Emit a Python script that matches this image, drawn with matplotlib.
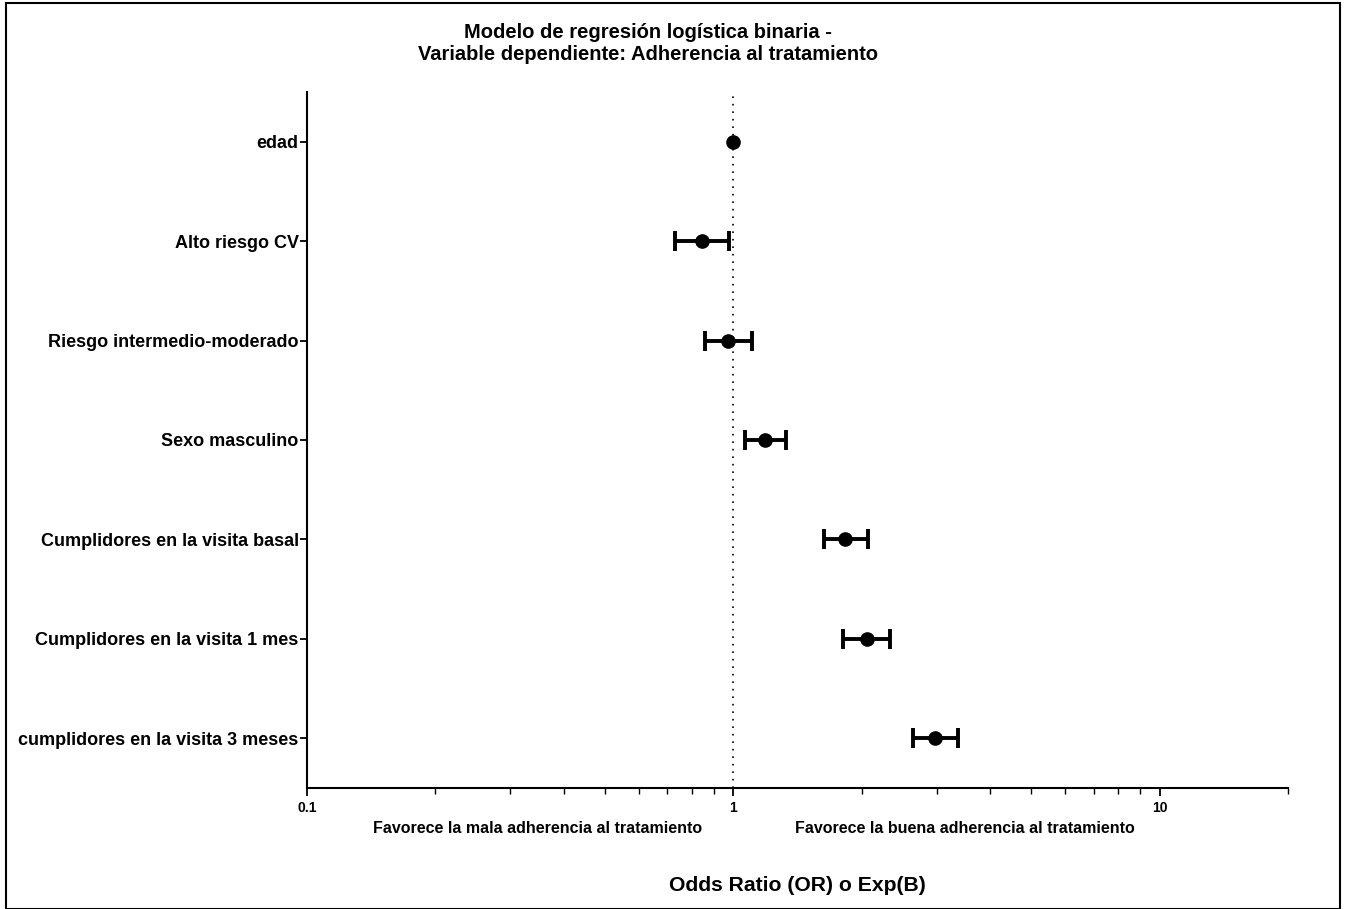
import matplotlib
matplotlib.use("Agg")
import matplotlib.pyplot as plt
from matplotlib.ticker import LogLocator, NullFormatter, FixedLocator, FixedFormatter
from matplotlib.patches import Rectangle

plt.rcParams['font.family'] = ['Liberation Sans', 'DejaVu Sans']

categories = ["edad", "Alto riesgo CV", "Riesgo intermedio-moderado", "Sexo masculino",
              "Cumplidores en la visita basal", "Cumplidores en la visita 1 mes",
              "cumplidores en la visita 3 meses"]
odds_ratio = [1.00, 0.846, 0.973, 1.187, 1.83, 2.055, 2.97]
ci_low = [0.995, 0.731, 0.856, 1.065, 1.63, 1.806, 2.635]
ci_high = [1.005, 0.979, 1.104, 1.329, 2.066, 2.336, 3.37]
x_ticks = [0.1, 1, 10]
x_tick_labels = ["0.1", "1", "10"]

fig = plt.figure(figsize=(13.48, 9.09), dpi=100)
ax = fig.add_axes([307/1348, 1-788/909, (1288-307)/1348, (788-92)/909])

ypos = list(range(len(categories)))
ax.axvline(1, color='black', linestyle=(0, (1, 3.5)), linewidth=1.2, zorder=1)

# error bars only where the interval is wider than the marker
idx = [i for i in ypos if ci_high[i] / ci_low[i] > 1.03]
ax.errorbar([odds_ratio[i] for i in idx], idx,
            xerr=[[odds_ratio[i] - ci_low[i] for i in idx],
                  [ci_high[i] - odds_ratio[i] for i in idx]],
            fmt='none', ecolor='black', elinewidth=2.8, capsize=7, capthick=2.8, zorder=3)
ax.plot(odds_ratio, ypos, 'o', color='black', markersize=9.5, zorder=4)

ax.set_xscale('log')
ax.set_xlim(0.1, 20)
ax.set_ylim(len(categories) - 0.5, -0.5)
ax.set_yticks(ypos)
ax.set_yticklabels(categories, fontsize=13, fontweight='bold')
ax.xaxis.set_major_locator(FixedLocator(x_ticks))
ax.xaxis.set_major_formatter(FixedFormatter(x_tick_labels))
ax.xaxis.set_minor_locator(LogLocator(base=10, subs=range(2, 10), numticks=20))
ax.xaxis.set_minor_formatter(NullFormatter())
for lbl in ax.get_xticklabels():
    lbl.set_fontweight('bold')
    lbl.set_fontsize(10)
ax.tick_params(axis='x', which='major', length=6, width=1.3, pad=3)
ax.tick_params(axis='x', which='minor', length=4, width=1.0)
ax.tick_params(axis='y', which='major', length=5, width=1.3, pad=1)
for s in ['top', 'right']:
    ax.spines[s].set_visible(False)
for s in ['left', 'bottom']:
    ax.spines[s].set_linewidth(1.5)

fig.text(648/1348, 1-38.5/909, "Modelo de regresión logística binaria -", ha='center', va='baseline',
         fontsize=14.5, fontweight='bold')
fig.text(648/1348, 1-60/909, "Variable dependiente: Adherencia al tratamiento", ha='center', va='baseline',
         fontsize=14.5, fontweight='bold')
fig.text(538/1348, 1-833/909, "Favorece la mala adherencia al tratamiento", ha='center', va='baseline',
         fontsize=11.5, fontweight='bold')
fig.text(965/1348, 1-833/909, "Favorece la buena adherencia al tratamiento", ha='center', va='baseline',
         fontsize=11.5, fontweight='bold')
fig.text(797/1348, 1-891/909, "Odds Ratio (OR) o Exp(B)", ha='center', va='baseline',
         fontsize=15.2, fontweight='bold')

fig.patches.append(Rectangle((6/1348, 0), (1340-6)/1348, 1-3/909, transform=fig.transFigure,
                             fill=False, edgecolor='black', linewidth=1.5))

fig.savefig("out.png", dpi=100)
